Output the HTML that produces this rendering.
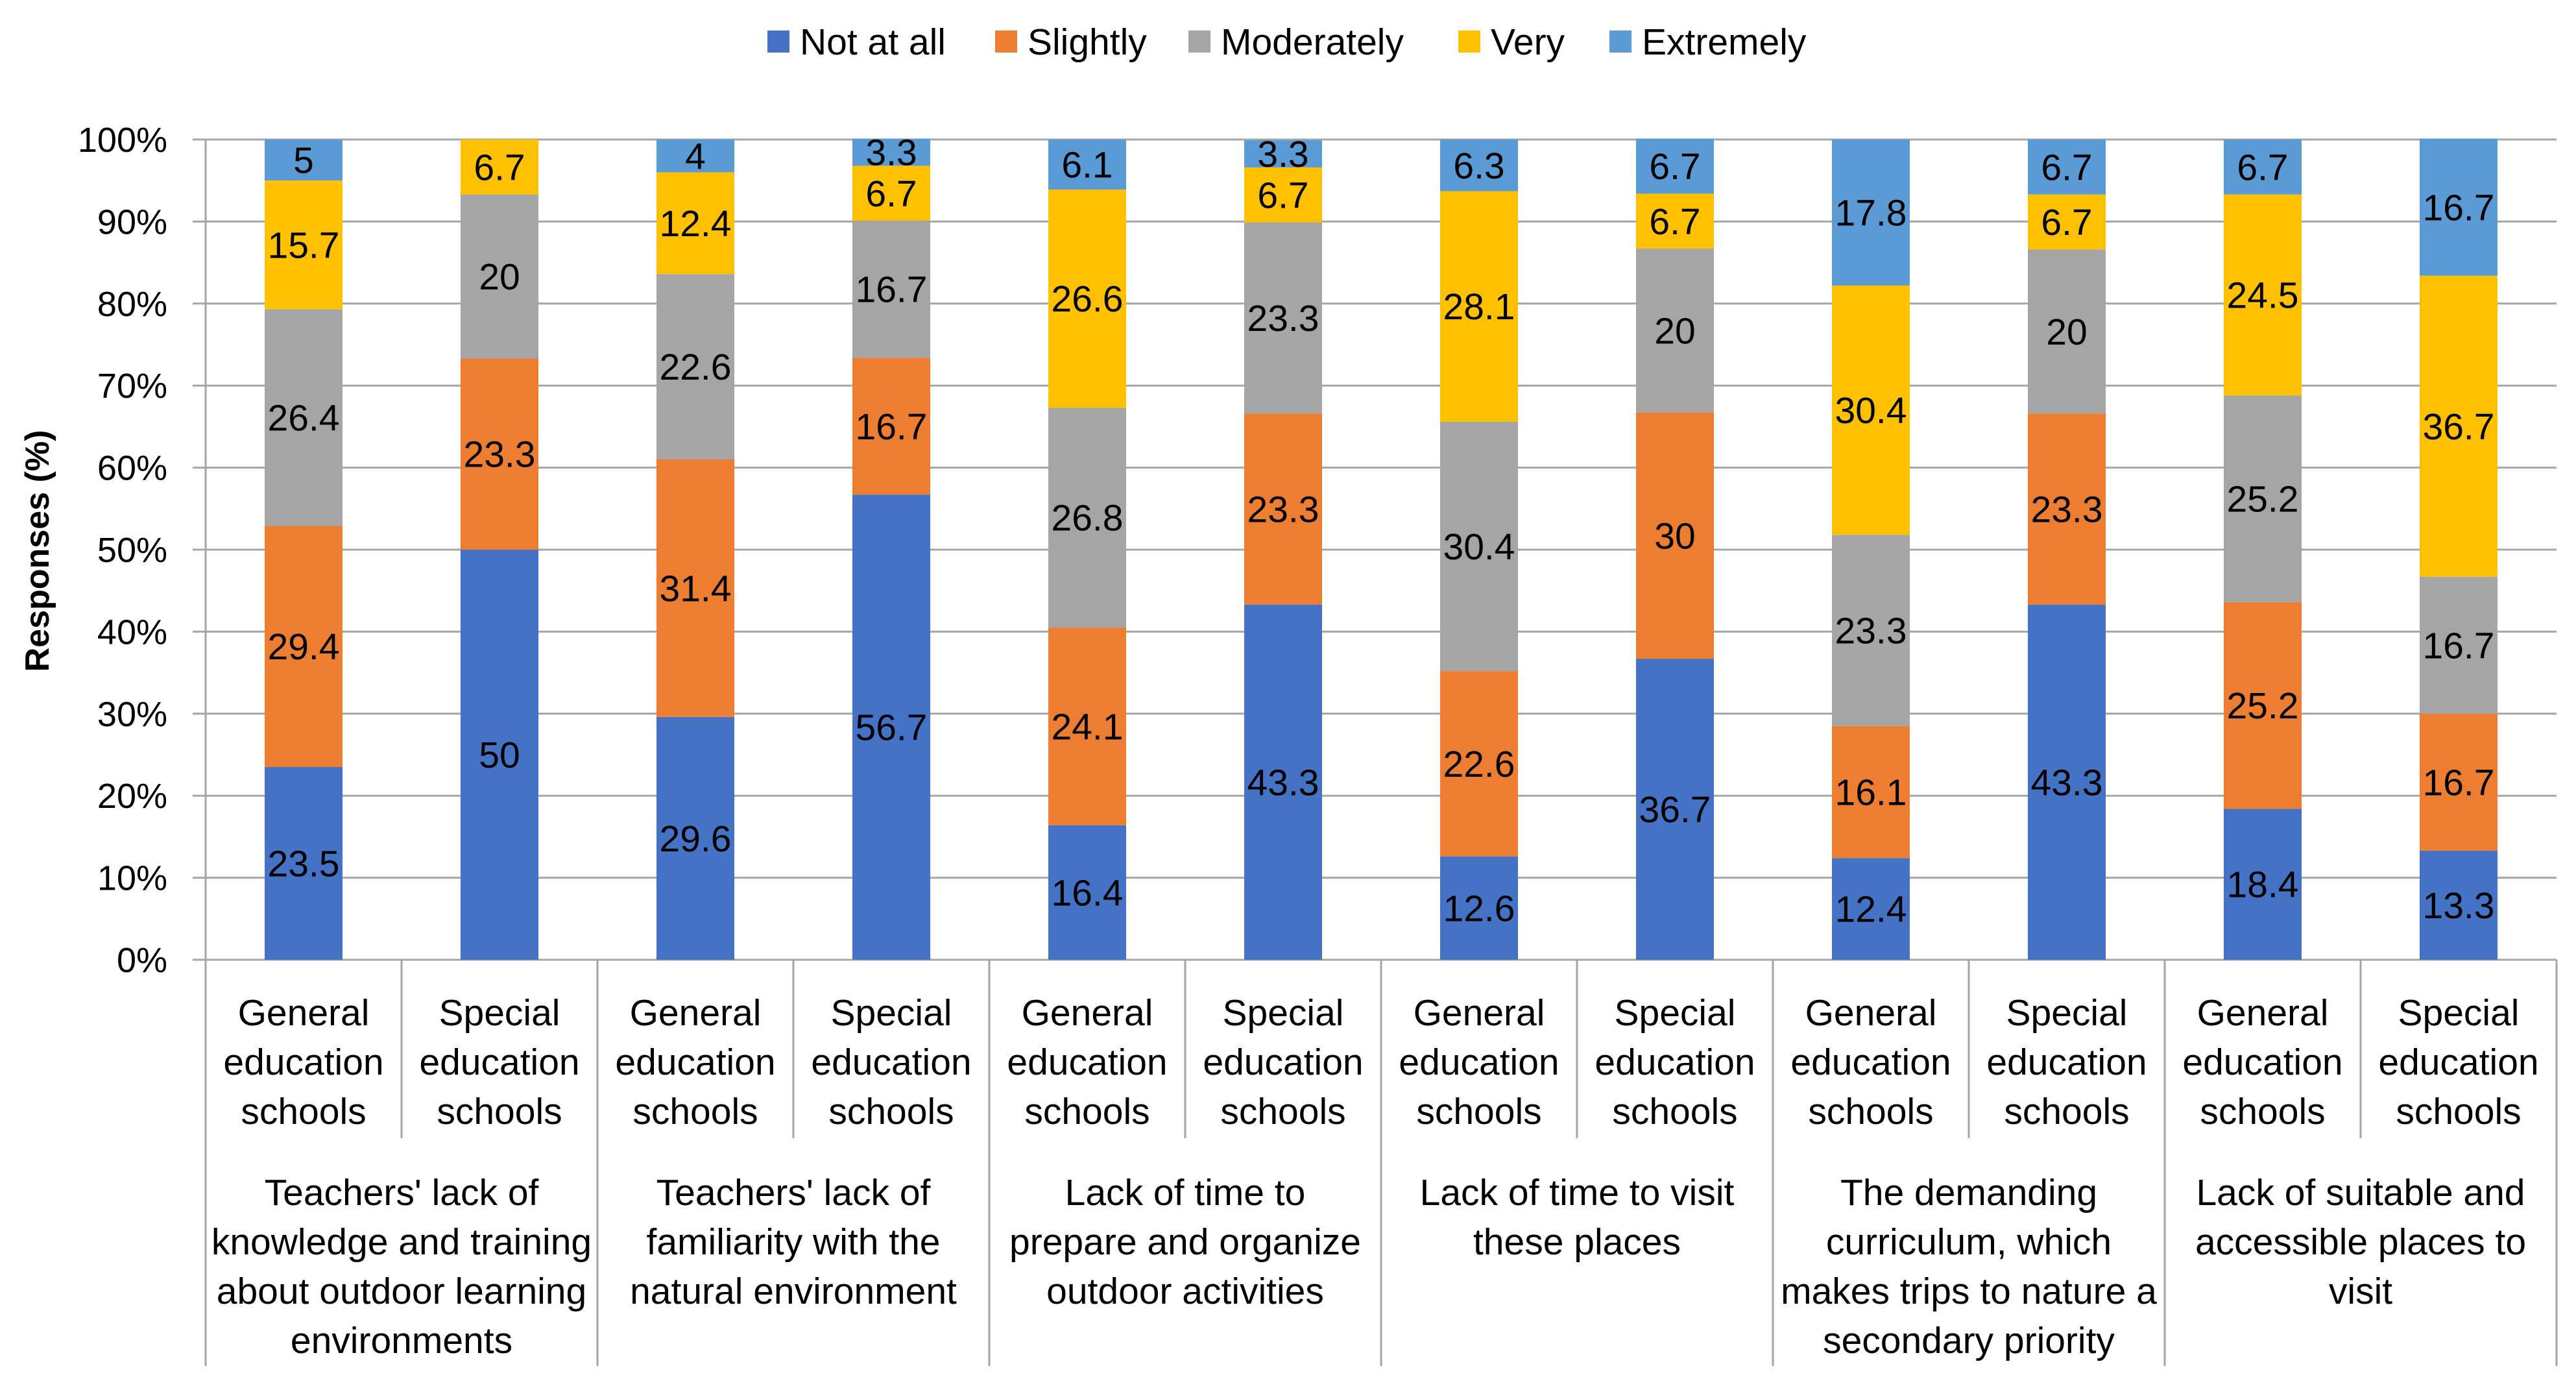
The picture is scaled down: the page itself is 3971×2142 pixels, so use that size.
<!DOCTYPE html>
<html><head><meta charset="utf-8">
<style>
html,body{margin:0;padding:0;background:#fff;}
svg{display:block;font-family:"Liberation Sans",sans-serif;}
</style></head>
<body>
<svg id="chart" width="3971" height="2142" viewBox="0 0 3971 2142" xmlns="http://www.w3.org/2000/svg">
<rect width="3971" height="2142" fill="#fff"/>
<g id="legend"></g>
<g id="grid"></g>
<g id="bars"></g>
<g id="xaxis"></g>
<text transform="translate(75,849) rotate(-90)" text-anchor="middle" font-size="52" font-weight="bold" fill="#000">Responses (%)</text>
</svg>
<script>
const seriesNames = ["Not at all","Slightly","Moderately","Very","Extremely"];
const notAtAll   = [23.5,50,29.6,56.7,16.4,43.3,12.6,36.7,12.4,43.3,18.4,13.3];
const slightly   = [29.4,23.3,31.4,16.7,24.1,23.3,22.6,30,16.1,23.3,25.2,16.7];
const moderately = [26.4,20,22.6,16.7,26.8,23.3,30.4,20,23.3,20,25.2,16.7];
const very       = [15.7,6.7,12.4,6.7,26.6,6.7,28.1,6.7,30.4,6.7,24.5,36.7];
const extremely  = [5,0,4,3.3,6.1,3.3,6.3,6.7,17.8,6.7,6.7,16.7];
const subLabels = ["General education schools","Special education schools"];
const groupLabels = [
 ["Teachers' lack of","knowledge and training","about outdoor learning","environments"],
 ["Teachers' lack of","familiarity with the","natural environment"],
 ["Lack of time to","prepare and organize","outdoor activities"],
 ["Lack of time to visit","these places"],
 ["The demanding","curriculum, which","makes trips to nature a","secondary priority"],
 ["Lack of suitable and","accessible places to","visit"]
];
const yTicks = [0,10,20,30,40,50,60,70,80,90,100];

const colors = ["#4472C4","#ED7D31","#A5A5A5","#FFC000","#5B9BD5"];
const series = [notAtAll,slightly,moderately,very,extremely];
const NS="http://www.w3.org/2000/svg";
const X0=317, X1=3941, Y0=1479, Ytop=215;
const n=notAtAll.length, cw=(X1-X0)/n, bw=120;
const y=v=>Y0-(v/100)*(Y0-Ytop);
const xc=i=>X0+cw*(i+0.5);
function mk(tag,attrs,parent,txt){const e=document.createElementNS(NS,tag);for(const k in attrs)e.setAttribute(k,attrs[k]);if(txt!==undefined)e.textContent=txt;parent.appendChild(e);return e;}

// legend
const lg=document.getElementById('legend');
const legSq=[1183,1534,1832,2248,2481];
seriesNames.forEach((s,i)=>{
  const r=mk('rect',{x:legSq[i],y:47,width:34,height:34,fill:colors[i]},lg);
  
  
  const t=mk('text',{x:legSq[i]+50,y:84,'font-size':57,fill:'#000'},lg,s);
  
  
});

// grid + ticks
const g=document.getElementById('grid');
yTicks.forEach(v=>{
  const l=mk('line',{x1:297,x2:X1,y1:y(v),y2:y(v),stroke:'#a6a6a6','stroke-width':3},g);
  
  
  const t=mk('text',{x:258,y:y(v)+19,'text-anchor':'end','font-size':54,fill:'#000'},g,v+'%');
  
  
});

// bars
const b=document.getElementById('bars');
for(let i=0;i<n;i++){
  let acc=0;
  series.forEach((arr,s)=>{
    const v=arr[i]; if(!v){return;}
    const r=mk('rect',{x:xc(i)-bw/2,y:y(acc+v),width:bw,height:y(acc)-y(acc+v),fill:colors[s]},b);
    
    
    const t=mk('text',{x:xc(i),y:(y(acc)+y(acc+v))/2+20,'text-anchor':'middle','font-size':57,fill:'#000'},b,String(v));
    
    
    acc+=v;
  });
}

// x axis
const xa=document.getElementById('xaxis');
mk('line',{x1:X0,x2:X0,y1:Ytop,y2:2105,stroke:'#a6a6a6','stroke-width':3},xa);
for(let i=0;i<=n;i++){
  const xx=X0+cw*i;
  const long=(i%2===0);
  if(i>0) mk('line',{x1:xx,x2:xx,y1:Y0,y2:long?2105:1754,stroke:'#a6a6a6','stroke-width':3},xa);
}
for(let i=0;i<n;i++){
  const words=subLabels[i%2].split(' ');
  words.forEach((w,k)=>{
    const t=mk('text',{x:xc(i),y:1580+k*76,'text-anchor':'middle','font-size':57,fill:'#000'},xa,w);
    
    
  });
}
groupLabels.forEach((lines,gi)=>{
  const cx=X0+cw*(2*gi+1);
  lines.forEach((ln,k)=>{
    const t=mk('text',{x:cx,y:1857+k*76,'text-anchor':'middle','font-size':57,fill:'#000'},xa,ln);
    
    
  });
});
</script>
</body></html>
